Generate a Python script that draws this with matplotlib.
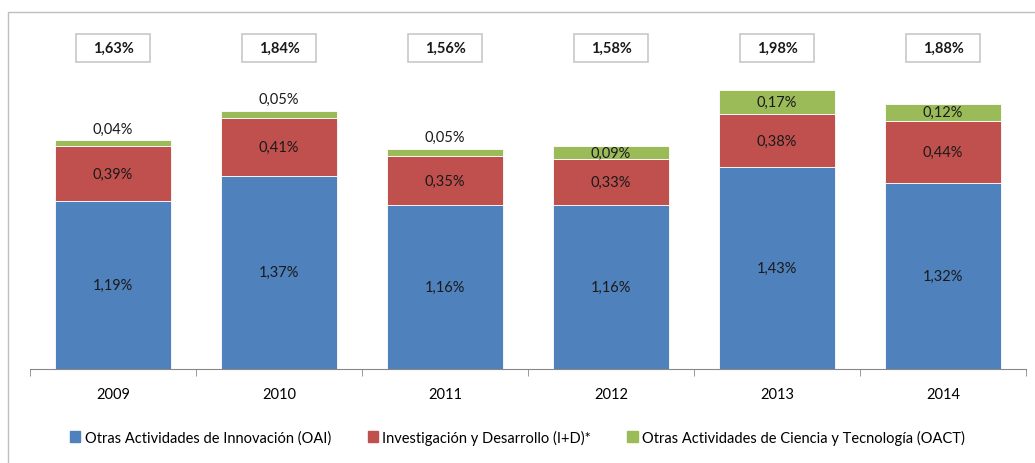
import matplotlib.pyplot as plt
import numpy as np
from matplotlib.patches import Rectangle

years = ["2009", "2010", "2011", "2012", "2013", "2014"]
oai = [1.19, 1.37, 1.16, 1.16, 1.43, 1.32]
idi = [0.39, 0.41, 0.35, 0.33, 0.38, 0.44]
oact = [0.04, 0.05, 0.05, 0.09, 0.17, 0.12]
totals = [1.63, 1.84, 1.56, 1.58, 1.98, 1.88]
series_names = [
    "Otras Actividades de Innovación (OAI)",
    "Investigación y Desarrollo (I+D)*",
    "Otras Actividades de Ciencia y Tecnología (OACT)",
]
colors = ["#4F81BD", "#C0504D", "#9BBB59"]

plt.rcParams["font.family"] = ["Lato", "DejaVu Sans"]
fs = 10.5


def pct(v):
    return f"{v:.2f}%".replace(".", ",")


fig = plt.figure(figsize=(10.35, 4.64), dpi=100)
fig.patches.append(Rectangle((8 / 1035, -0.1), 1.1, 1.1 - 13 / 464,
                             transform=fig.transFigure, fill=False,
                             edgecolor="#bfbfbf", linewidth=1.0))
ax = fig.add_axes([30 / 1035, 94 / 464, 996 / 1035, 357 / 464])

x = np.arange(len(years))
width = 0.70
bottom = np.zeros(len(years))
for vals, color in zip([oai, idi, oact], colors):
    ax.bar(x, vals, width, bottom=bottom, color=color,
           edgecolor="white", linewidth=0.6)
    bottom = bottom + np.array(vals)

trans = ax.get_xaxis_transform()
box_w, box_h, box_y = 0.44, 0.076, 0.899
for i in range(len(years)):
    ax.text(x[i], oai[i] / 2, pct(oai[i]), ha="center", va="center",
            fontsize=fs, color="#1a1a1a")
    ax.text(x[i], oai[i] + idi[i] / 2, pct(idi[i]), ha="center",
            va="center", fontsize=fs, color="#1a1a1a")
    top = oai[i] + idi[i]
    if oact[i] < 0.07:
        ax.text(x[i], top + oact[i] + 0.085, pct(oact[i]), ha="center",
                va="center", fontsize=fs, color="#1a1a1a")
    else:
        ax.text(x[i], top + oact[i] / 2, pct(oact[i]), ha="center",
                va="center", fontsize=fs, color="#1a1a1a")
    ax.add_patch(Rectangle((x[i] - box_w / 2, box_y - box_h / 2), box_w,
                           box_h, transform=trans, facecolor="white",
                           edgecolor="#c8c8c8", linewidth=1.2,
                           clip_on=False))
    ax.text(x[i], box_y, pct(totals[i]), transform=trans, ha="center",
            va="center", fontsize=fs, fontweight="bold", color="#1a1a1a")

ax.set_xlim(-0.5, len(years) - 0.5)
ax.set_ylim(0, 2.53)
ax.set_yticks([])
ax.set_xticks(x, years, fontsize=fs)
ax.set_xticks(np.arange(-0.5, len(years)), minor=True)
ax.tick_params(axis="x", which="major", length=0, pad=13)
ax.tick_params(axis="x", which="minor", length=5, color="#888888",
               direction="out")
for side in ["top", "right", "left"]:
    ax.spines[side].set_visible(False)
ax.spines["bottom"].set_color("#888888")

handles = [Rectangle((0, 0), 1, 1, color=c) for c in colors]
fig.legend(handles, series_names, loc="center", ncol=3,
           bbox_to_anchor=(0.5, 26 / 464), frameon=False, fontsize=fs,
           handlelength=0.7, handleheight=0.7, handletextpad=0.3,
           columnspacing=2.5)

fig.savefig("out.png", dpi=100)
